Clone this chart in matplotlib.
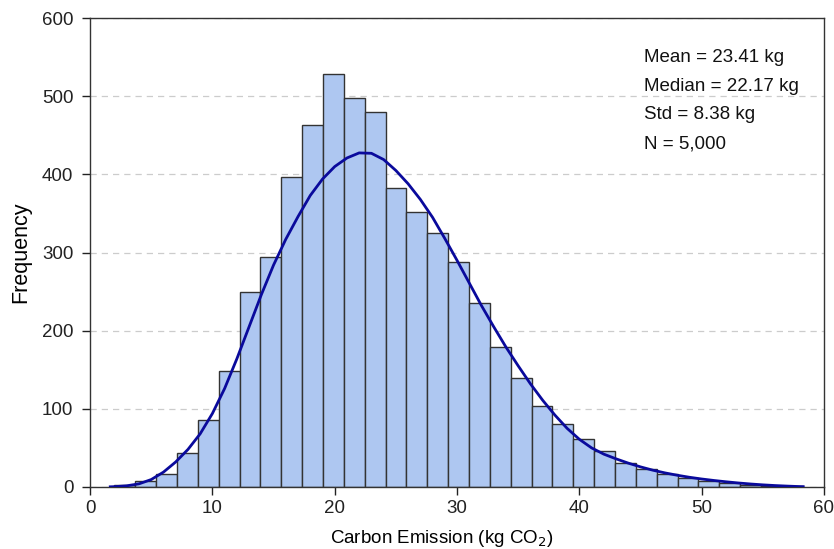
import matplotlib
matplotlib.use("Agg")
import matplotlib.pyplot as plt
import numpy as np

plt.rcParams['font.family'] = ['Liberation Sans', 'DejaVu Sans']

# histogram bins (kg CO2) and counts
bin_start = 1.99
bin_end = 58.26
counts = [2, 7, 16, 43, 86, 149, 250, 294, 397, 463, 529, 498, 480, 382,
          352, 325, 288, 236, 179, 139, 103, 80, 61, 46, 31, 23, 17, 12,
          7, 5, 3, 1, 1]

# fitted density curve, scaled to frequency
curve_x = [1.65, 2, 3, 4, 5, 6, 7, 8, 9, 10, 11, 12, 13, 14, 15, 16, 17, 18,
           19, 20, 21, 22, 23, 24, 25, 26, 27, 28, 29, 30, 31, 32, 33, 34,
           35, 36, 37, 38, 39, 40, 41, 42, 43, 44, 45, 46, 47, 48, 49, 50,
           51, 52, 53, 54, 55, 56, 57, 58, 58.3]
curve_y = [0.2, 0.4, 1.5, 4, 9.5, 19, 32, 48, 68, 94, 126, 164, 205, 246,
           284, 317, 346, 373, 394, 410, 421, 427.5, 427, 419, 405, 388,
           368, 345, 318, 290, 261, 232, 205, 179, 155, 132, 111, 92, 75,
           61, 50, 42, 36, 30.5, 25.7, 21.5, 18, 15, 12.4, 10.2, 8.3, 6.6,
           5.1, 3.8, 2.7, 1.8, 1.1, 0.5, 0.4]

stats = ["Mean = 23.41 kg", "Median = 22.17 kg", "Std = 8.38 kg", "N = 5,000"]

edges = np.linspace(bin_start, bin_end, len(counts) + 1)
width = edges[1] - edges[0]

fig = plt.figure(figsize=(8.34, 5.49), dpi=100)
ax = fig.add_axes([0.108, 0.113, 0.880, 0.854])

ax.bar(edges[:-1], counts, width=width, align='edge', color='#aec7f1',
       edgecolor='#333333', linewidth=1.0, zorder=2)
ax.plot(curve_x, curve_y, color='#0a0a9c', linewidth=2.0, zorder=3)

ax.set_xlim(0, 60)
ax.set_ylim(0, 600)
ax.set_xticks(np.arange(0, 61, 10))
ax.set_yticks(np.arange(0, 601, 100))
ax.yaxis.grid(True, linestyle=(0, (5, 4)), color='#cccccc', linewidth=0.9, zorder=0)
ax.set_axisbelow(True)
ax.tick_params(direction='out', length=6, width=1, labelsize=13.5, colors='#222222')
ax.tick_params(axis='y', pad=6)
for s in ax.spines.values():
    s.set_color('#333333')
    s.set_linewidth(1.0)

ax.set_xlabel("Carbon Emission (kg CO$_2$)", fontsize=13.5)
ax.xaxis.set_label_coords(0.479, -0.088)
ax.set_ylabel("Frequency", fontsize=15.5, labelpad=8)

for i, line in enumerate(stats):
    ax.text(0.755, 0.907 - i * 0.0615, line, transform=ax.transAxes,
            fontsize=13.5, va='baseline', ha='left', color='#111111')

plt.savefig("out.png", dpi=100)
